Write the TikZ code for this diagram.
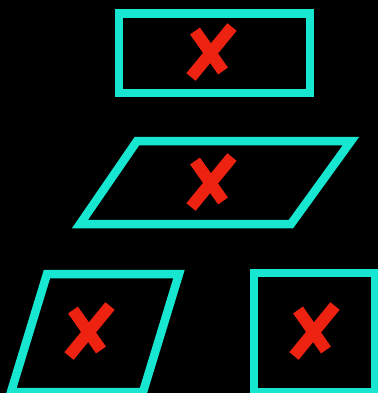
\documentclass[tikz,border=0pt]{standalone}
\usepackage{tikz}
\definecolor{frameCyan}{HTML}{17E6D0}
\definecolor{crossRed}{HTML}{EE2211}

\begin{document}
\begin{tikzpicture}[x=1pt, y=-1pt,
    frame/.style={draw=frameCyan, line width=8.5pt},
    redx/.pic={
        \draw[crossRed, line width=12pt] (-15,-22) -- (13,18);
        \draw[crossRed, line width=12pt] (22,-26) -- (-19,24);
    }]

    % black page, shapes cut at its edges
    \useasboundingbox (0,0) rectangle (378,393);
    \fill[black] (0,0) rectangle (378,393);
    \clip (0,0) rectangle (378,393);

    % top: rectangle
    \draw[frame] (119,13.5) rectangle (310,93);
    \pic at (210,53) {redx};

    % middle: wide parallelogram
    \draw[frame] (137,141) -- (351,141) -- (291,224) -- (80,224) -- cycle;
    \pic at (210,183) {redx};

    % bottom left: narrow parallelogram
    \draw[frame] (47,274) -- (179,274) -- (143,392) -- (11,392) -- cycle;
    \pic at (88,332) {redx};

    % bottom right: square
    \draw[frame] (254,273) rectangle (375,392);
    \pic at (313,332) {redx};

\end{tikzpicture}
\end{document}
